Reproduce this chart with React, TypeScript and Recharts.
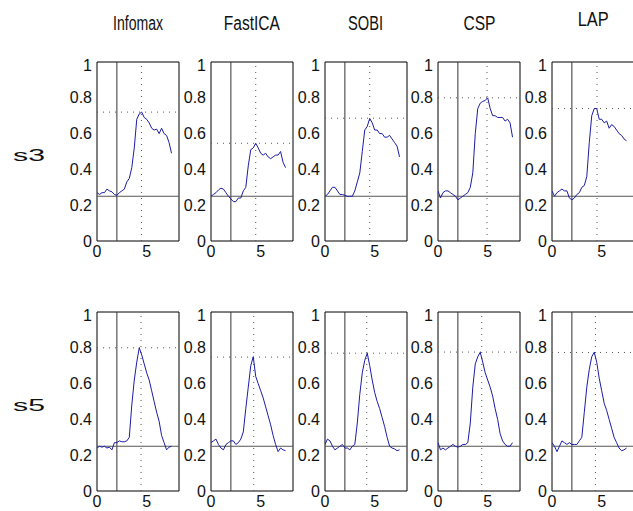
import React from 'react';
import { LineChart, Line, XAxis, YAxis, ReferenceLine, ReferenceArea } from 'recharts';

// column titles and row labels
const methods = ['Infomax', 'FastICA', 'SOBI', 'CSP', 'LAP'];
const subjects = ['s3', 's5'];

// time axis (s)
const times = [0, 0.25, 0.5, 0.75, 1, 1.25, 1.5, 1.75, 2, 2.25, 2.5, 2.75, 3, 3.25, 3.5, 3.75, 4, 4.25, 4.5, 4.75, 5, 5.25, 5.5, 5.75, 6, 6.25, 6.5, 6.75, 7, 7.25, 7.5];
const xTicks = [0, 5];
const yTicks = [0, 0.2, 0.4, 0.6, 0.8, 1];

// s3 curves
const infomaxS3 = [0.27, 0.26, 0.27, 0.27, 0.29, 0.28, 0.275, 0.26, 0.255, 0.27, 0.28, 0.29, 0.33, 0.35, 0.41, 0.52, 0.68, 0.71, 0.72, 0.69, 0.68, 0.66, 0.63, 0.62, 0.625, 0.6, 0.63, 0.6, 0.59, 0.55, 0.49];
const fastIcaS3 = [0.25, 0.26, 0.27, 0.285, 0.295, 0.29, 0.27, 0.25, 0.235, 0.22, 0.22, 0.24, 0.24, 0.28, 0.3, 0.42, 0.51, 0.52, 0.546, 0.52, 0.49, 0.48, 0.49, 0.47, 0.46, 0.47, 0.48, 0.48, 0.5, 0.44, 0.41];
const sobiS3 = [0.25, 0.26, 0.28, 0.3, 0.3, 0.28, 0.26, 0.26, 0.255, 0.25, 0.25, 0.25, 0.28, 0.33, 0.38, 0.5, 0.62, 0.64, 0.685, 0.66, 0.62, 0.62, 0.6, 0.6, 0.58, 0.58, 0.59, 0.57, 0.55, 0.53, 0.47];
const cspS3 = [0.28, 0.24, 0.27, 0.28, 0.28, 0.27, 0.26, 0.25, 0.23, 0.24, 0.25, 0.26, 0.27, 0.3, 0.38, 0.6, 0.74, 0.77, 0.78, 0.785, 0.8, 0.74, 0.7, 0.7, 0.69, 0.69, 0.69, 0.67, 0.68, 0.66, 0.58];
const lapS3 = [0.28, 0.25, 0.27, 0.28, 0.29, 0.28, 0.28, 0.24, 0.23, 0.24, 0.26, 0.27, 0.3, 0.31, 0.36, 0.55, 0.7, 0.74, 0.74, 0.68, 0.68, 0.66, 0.67, 0.63, 0.65, 0.64, 0.62, 0.6, 0.59, 0.57, 0.56];

// s5 curves
const infomaxS5 = [0.24, 0.25, 0.245, 0.25, 0.24, 0.245, 0.23, 0.27, 0.27, 0.28, 0.275, 0.275, 0.28, 0.3, 0.48, 0.62, 0.72, 0.8, 0.76, 0.71, 0.66, 0.62, 0.56, 0.5, 0.44, 0.39, 0.31, 0.27, 0.23, 0.245, 0.25];
const fastIcaS5 = [0.27, 0.28, 0.29, 0.26, 0.24, 0.23, 0.26, 0.27, 0.28, 0.28, 0.26, 0.27, 0.29, 0.33, 0.46, 0.58, 0.7, 0.75, 0.64, 0.6, 0.56, 0.52, 0.47, 0.42, 0.37, 0.31, 0.26, 0.22, 0.24, 0.23, 0.225];
const sobiS5 = [0.26, 0.29, 0.28, 0.25, 0.23, 0.24, 0.25, 0.26, 0.24, 0.24, 0.23, 0.25, 0.26, 0.38, 0.54, 0.66, 0.73, 0.77, 0.7, 0.62, 0.55, 0.5, 0.46, 0.41, 0.36, 0.3, 0.25, 0.24, 0.235, 0.225, 0.23];
const cspS5 = [0.27, 0.23, 0.24, 0.23, 0.24, 0.25, 0.26, 0.25, 0.245, 0.25, 0.26, 0.26, 0.27, 0.38, 0.58, 0.71, 0.75, 0.775, 0.72, 0.66, 0.62, 0.58, 0.53, 0.46, 0.4, 0.32, 0.28, 0.26, 0.25, 0.25, 0.27];
const lapS5 = [0.27, 0.25, 0.22, 0.25, 0.28, 0.27, 0.26, 0.27, 0.26, 0.26, 0.26, 0.28, 0.3, 0.44, 0.58, 0.68, 0.75, 0.775, 0.72, 0.63, 0.56, 0.49, 0.45, 0.4, 0.35, 0.3, 0.27, 0.24, 0.225, 0.23, 0.24];

// peak markers (dotted lines)
const peakTimesS3 = [4.47, 4.5, 4.5, 4.93, 4.53];
const peakValuesS3 = [0.72, 0.546, 0.686, 0.8, 0.74];
const peakTimesS5 = [4.43, 4.3, 4.2, 4.4, 4.37];
const peakValuesS5 = [0.8, 0.748, 0.77, 0.776, 0.774];

const cueTime = 2;
const chanceLevel = 0.25;
const X_MAX = 8.25;

const rows = [
  { series: [infomaxS3, fastIcaS3, sobiS3, cspS3, lapS3], peakT: peakTimesS3, peakV: peakValuesS3 },
  { series: [infomaxS5, fastIcaS5, sobiS5, cspS5, lapS5], peakT: peakTimesS5, peakV: peakValuesS5 },
];

// layout
const PLOT_W = 82;
const PLOT_H = 179;
const Y_AXIS_W = 40;
const M_TOP = 6;
const M_RIGHT = 6;
const X_AXIS_H = 26;
const plotLeft = (i: number) => 97 + i * 113.8;
const plotTop = [62, 312];
const titleBaseline = [30, 30, 30, 30, 26];
const titleWidth = [50, 56, 35, 32, 31];

const FONT = '"Liberation Sans", Arial, Helvetica, sans-serif';
const tickStyle = { fontSize: 16, fill: '#111', fontFamily: FONT };

interface PanelProps {
  values: number[];
  peakT: number;
  peakV: number;
  left: number;
  top: number;
}

const Panel: React.FC<PanelProps> = ({ values, peakT, peakV, left, top }) => {
  const data = times.map((t, i) => ({ t, v: values[i] }));
  return (
    <div style={{ position: 'absolute', left: left - Y_AXIS_W, top: top - M_TOP }}>
      <LineChart
        width={Y_AXIS_W + PLOT_W + M_RIGHT}
        height={M_TOP + PLOT_H + X_AXIS_H}
        data={data}
        margin={{ top: M_TOP, right: M_RIGHT, left: 0, bottom: 0 }}
      >
        <XAxis
          dataKey="t"
          type="number"
          domain={[0, X_MAX]}
          ticks={xTicks}
          tickLine={false}
          axisLine={false}
          tickSize={3}
          height={X_AXIS_H}
          tick={tickStyle}
          allowDataOverflow
        />
        <YAxis
          type="number"
          domain={[0, 1]}
          ticks={yTicks}
          tickLine={false}
          axisLine={false}
          tickSize={3}
          width={Y_AXIS_W}
          tick={tickStyle}
          tickFormatter={(v: number) => String(v)}
        />
        <ReferenceArea x1={0} x2={X_MAX} y1={0} y2={1} fill="none" stroke="#000" strokeWidth={1} ifOverflow="visible" />
        <ReferenceLine y={peakV} stroke="#555" strokeDasharray="1 5" />
        <ReferenceLine x={peakT} stroke="#555" strokeDasharray="1 5" />
        <ReferenceLine x={cueTime} stroke="#333" />
        <ReferenceLine y={chanceLevel} stroke="#555" />
        <Line dataKey="v" stroke="#1c1ca6" strokeWidth={1} dot={false} isAnimationActive={false} />
      </LineChart>
    </div>
  );
};

export default function App() {
  return (
    <div style={{ position: 'absolute', left: 0, top: 0, width: 633, height: 511, overflow: 'hidden', background: '#fff' }}>
      {rows.map((row, r) =>
        row.series.map((values, c) => (
          <Panel
            key={`${r}-${c}`}
            values={values}
            peakT={row.peakT[c]}
            peakV={row.peakV[c]}
            left={plotLeft(c)}
            top={plotTop[r]}
          />
        ))
      )}
      <svg width={633} height={511} style={{ position: 'absolute', left: 0, top: 0, pointerEvents: 'none' }}>
        {methods.map((m, c) => (
          <text
            key={m}
            x={plotLeft(c) + PLOT_W / 2 - titleWidth[c] / 2}
            y={titleBaseline[c]}
            fontSize={20}
            fontFamily={FONT}
            textLength={titleWidth[c]}
            lengthAdjust="spacingAndGlyphs"
            fill="#111"
          >
            {m}
          </text>
        ))}
        {subjects.map((s, r) => (
          <text
            key={s}
            x={13}
            y={plotTop[r] + 99}
            fontSize={17}
            fontFamily={FONT}
            textLength={32}
            lengthAdjust="spacingAndGlyphs"
            fill="#111"
          >
            {s}
          </text>
        ))}
      </svg>
    </div>
  );
}
